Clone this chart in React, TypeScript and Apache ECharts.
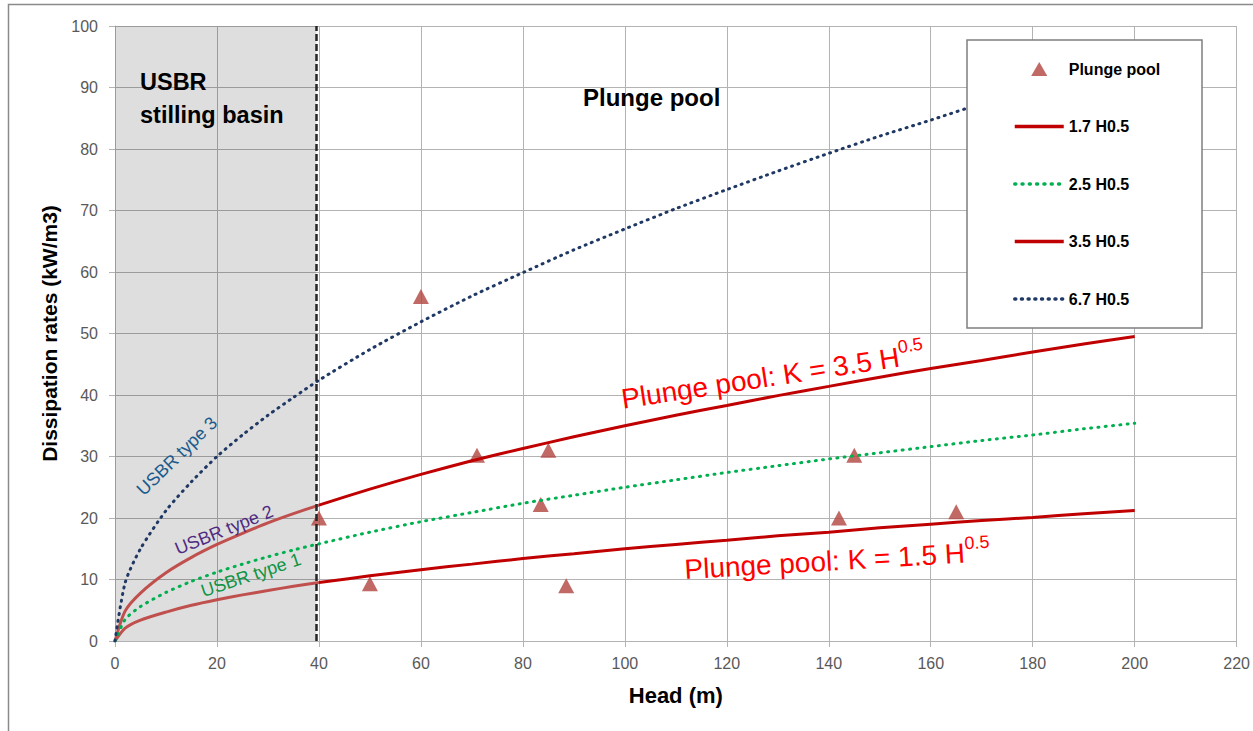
import React, { useEffect, useRef } from "react";
import * as echarts from "echarts";

// ---- data ----
// USBR stilling basin part (head 0..40 m)
const headBasin = [0, 2, 5, 10, 15, 20, 25, 30, 35, 40];
const usbrType1Rate = [0, 2.1, 3.4, 4.7, 5.8, 6.7, 7.5, 8.2, 8.9, 9.5]; // K = 1.5
const usbrType2Rate = [0, 4.9, 7.8, 11.1, 13.6, 15.7, 17.5, 19.2, 20.7, 22.1]; // K = 3.5

// Plunge pool part (head 40..200 m)
const headPool = [40, 50, 60, 70, 80, 90, 100, 110, 120, 130, 140, 150, 160, 170, 180, 190, 200];
const poolLowRate = [9.5, 10.6, 11.6, 12.5, 13.4, 14.2, 15.0, 15.7, 16.4, 17.1, 17.7, 18.4, 19.0, 19.6, 20.1, 20.7, 21.2];
const poolHighRate = [22.1, 24.7, 27.1, 29.3, 31.3, 33.2, 35.0, 36.7, 38.3, 39.9, 41.4, 42.9, 44.3, 45.6, 47.0, 48.3, 49.5];

// Full-range dotted curves (head 0..200 m)
const headFull = [0, 2, 5, 10, 15, 20, 25, 30, 35, 40, 50, 60, 70, 80, 90, 100, 110, 120, 130, 140, 150, 160, 170, 180, 190, 200];
const k25Rate = [0, 3.5, 5.6, 7.9, 9.7, 11.2, 12.5, 13.7, 14.8, 15.8, 17.7, 19.4, 20.9, 22.4, 23.7, 25.0, 26.2, 27.4, 28.5, 29.6, 30.6, 31.6, 32.6, 33.5, 34.5, 35.4];
const k67Rate = [0, 9.5, 15.0, 21.2, 25.9, 30.0, 33.5, 36.7, 39.6, 42.4, 47.4, 51.9, 56.1, 59.9, 63.6, 67.0, 70.3, 73.4, 76.4, 79.3, 82.1, 84.7, 87.4, 89.9, 92.4, 94.8];

// Plunge pool measurements (triangles)
const obsHead = [40, 50, 60, 71, 83.5, 85, 88.5, 142, 145, 165];
const obsRate = [20, 9.3, 56, 30.2, 22.2, 31, 9, 20, 30.2, 21];

const lineLegendNames = ["1.7 H0.5", "2.5 H0.5", "3.5 H0.5", "6.7 H0.5"];
const pointLegendName = "Plunge pool";
const basinLimit = 39.5;

const FONT = "'Liberation Sans', Arial, sans-serif";
const TRI_COLOR = "#b0443f";
const zip = (xs: number[], ys: number[]) => xs.map((x, i) => [x, ys[i]]);
const deg = (d: number) => (d * Math.PI) / 180;

export default function App() {
  const ref = useRef<HTMLDivElement>(null);
  useEffect(() => {
    const chart = echarts.init(ref.current!, null, { renderer: "svg" });
    const hiddenSymbol = { color: "rgba(0,0,0,0)", borderWidth: 0, opacity: 0 };
    const option: any = {
      animation: false,
      backgroundColor: "#ffffff",
      grid: { left: 115, right: 15, top: 26, bottom: 90 },
      xAxis: {
        type: "value",
        min: 0,
        max: 220,
        interval: 20,
        name: "Head (m)",
        nameLocation: "middle",
        nameGap: 43,
        nameTextStyle: { fontFamily: FONT, fontWeight: "bold", fontSize: 22, color: "#000" },
        axisLine: { show: true, lineStyle: { color: "#b3b3b3", width: 1 } },
        axisTick: { show: true, length: 6, lineStyle: { color: "#b3b3b3" } },
        axisLabel: { fontFamily: FONT, fontSize: 16, color: "#595959", margin: 14 },
        splitLine: { show: true, lineStyle: { color: "#b3b3b3", width: 1 } },
      },
      yAxis: {
        type: "value",
        min: 0,
        max: 100,
        interval: 10,
        name: "Dissipation rates (kW/m3)",
        nameLocation: "middle",
        nameGap: 54,
        nameTextStyle: { fontFamily: FONT, fontWeight: "bold", fontSize: 21, color: "#000" },
        axisLine: { show: true, lineStyle: { color: "#b3b3b3", width: 1 } },
        axisTick: { show: true, length: 6, lineStyle: { color: "#b3b3b3" } },
        axisLabel: { fontFamily: FONT, fontSize: 16, color: "#595959", margin: 17 },
        splitLine: { show: true, lineStyle: { color: "#b3b3b3", width: 1 } },
      },
      legend: {
        data: [
          { name: pointLegendName, icon: "path://M0,13 L7.5,0 L15,13 Z" },
          ...lineLegendNames.map((n) => ({ name: n, itemStyle: hiddenSymbol })),
        ],
        orient: "vertical",
        left: 1013,
        top: 61,
        padding: 0,
        itemWidth: 49,
        itemHeight: 14,
        itemGap: 41.5,
        symbolKeepAspect: true,
        lineStyle: { width: 3.5 },
        z: 10,
        textStyle: { fontFamily: FONT, fontWeight: "bold", fontSize: 16, color: "#000" },
      },
      graphic: [
        {
          type: "polyline",
          silent: true,
          shape: { points: [[8.5, 731], [8.5, 4.5], [1253, 4.5]] },
          style: { stroke: "#8a8a8a", lineWidth: 1.5, fill: null },
        },
        {
          type: "rect",
          z: 5,
          silent: true,
          shape: { x: 967, y: 40, width: 235, height: 288 },
          style: { fill: "#ffffff", stroke: "#7f7f7f", lineWidth: 1.5 },
        },
        {
          type: "text",
          x: 140,
          y: 81.5,
          z: 6,
          style: { text: "USBR", fontFamily: FONT, fontWeight: "bold", fontSize: 23.5, fill: "#000", align: "left", verticalAlign: "middle" },
        },
        {
          type: "text",
          x: 140,
          y: 114.5,
          z: 6,
          style: { text: "stilling basin", fontFamily: FONT, fontWeight: "bold", fontSize: 23.5, fill: "#000", align: "left", verticalAlign: "middle" },
        },
        {
          type: "text",
          x: 583,
          y: 97,
          z: 6,
          style: { text: "Plunge pool", fontFamily: FONT, fontWeight: "bold", fontSize: 24, fill: "#000", align: "left", verticalAlign: "middle" },
        },
        {
          type: "text",
          x: 621.5,
          y: 399.3,
          z: 6,
          rotation: deg(8.6),
          style: {
            text: "{n|Plunge pool: K = 3.5 H}{s|0.5}",
            align: "left",
            verticalAlign: "middle",
            fill: "#ff0000",
            fontFamily: FONT,
            rich: {
              n: { fontFamily: FONT, fontSize: 28, lineHeight: 38, fill: "#ff0000" },
              s: { fontFamily: FONT, fontSize: 18, verticalAlign: "top", fill: "#ff0000" },
            },
          },
        },
        {
          type: "text",
          x: 684.5,
          y: 569.5,
          z: 6,
          rotation: deg(3.3),
          style: {
            text: "{n|Plunge pool: K = 1.5 H}{s|0.5}",
            align: "left",
            verticalAlign: "middle",
            fill: "#ff0000",
            fontFamily: FONT,
            rich: {
              n: { fontFamily: FONT, fontSize: 28, lineHeight: 38, fill: "#ff0000" },
              s: { fontFamily: FONT, fontSize: 18, verticalAlign: "top", fill: "#ff0000" },
            },
          },
        },
        {
          type: "text",
          x: 177,
          y: 456,
          z: 6,
          rotation: deg(44),
          style: { text: "USBR type 3", fontFamily: FONT, fontSize: 18, fill: "#1b5a8c", align: "center", verticalAlign: "middle" },
        },
        {
          type: "text",
          x: 224,
          y: 530,
          z: 6,
          rotation: deg(22),
          style: { text: "USBR type 2", fontFamily: FONT, fontSize: 18, fill: "#4f2a80", align: "center", verticalAlign: "middle" },
        },
        {
          type: "text",
          x: 251,
          y: 575,
          z: 6,
          rotation: deg(18.5),
          style: { text: "USBR type 1", fontFamily: FONT, fontSize: 18, fill: "#0e9443", align: "center", verticalAlign: "middle" },
        },
      ],
      series: [
        {
          name: "basin-area",
          type: "line",
          z: 1,
          silent: true,
          data: [[0, 0]],
          symbol: "none",
          lineStyle: { opacity: 0 },
          markArea: {
            silent: true,
            itemStyle: { color: "rgba(0,0,0,0.13)" },
            data: [[{ xAxis: 0 }, { xAxis: basinLimit }]],
          },
        },
        {
          name: "USBR type 1 curve",
          type: "line",
          data: zip(headBasin, usbrType1Rate),
          symbol: "none",
          smooth: 0.25,
          lineStyle: { color: "#c0504d", width: 3 },
          itemStyle: { color: "#c0504d" },
        },
        {
          name: "USBR type 2 curve",
          type: "line",
          data: zip(headBasin, usbrType2Rate),
          symbol: "none",
          smooth: 0.25,
          lineStyle: { color: "#c0504d", width: 3 },
          itemStyle: { color: "#c0504d" },
        },
        {
          name: "1.7 H0.5",
          type: "line",
          data: zip(headPool, poolLowRate),
          symbol: "none",
          smooth: 0.25,
          lineStyle: { color: "#c00000", width: 3 },
          itemStyle: { color: "#c00000" },
        },
        {
          name: "2.5 H0.5",
          type: "line",
          data: zip(headFull, k25Rate),
          symbol: "none",
          smooth: 0.25,
          lineStyle: { color: "#00b050", width: 3, type: [1, 6.3], cap: "round" },
          itemStyle: { color: "#00b050" },
        },
        {
          name: "3.5 H0.5",
          type: "line",
          data: zip(headPool, poolHighRate),
          symbol: "none",
          smooth: 0.25,
          lineStyle: { color: "#c00000", width: 3 },
          itemStyle: { color: "#c00000" },
        },
        {
          name: "6.7 H0.5",
          type: "line",
          data: zip(headFull, k67Rate),
          symbol: "none",
          smooth: 0.25,
          lineStyle: { color: "#1f3864", width: 3, type: [1, 5.7], cap: "round" },
          itemStyle: { color: "#1f3864" },
        },
        {
          name: pointLegendName,
          type: "scatter",
          data: zip(obsHead, obsRate),
          symbol: "triangle",
          symbolSize: [16, 15],
          itemStyle: { color: TRI_COLOR },
        },
        {
          name: "basin-limit",
          type: "line",
          z: 3,
          silent: true,
          data: [[0, 0]],
          symbol: "none",
          lineStyle: { opacity: 0 },
          markLine: {
            silent: true,
            symbol: ["none", "none"],
            label: { show: false },
            lineStyle: { color: "#262626", width: 2.5, type: [7, 3] },
            data: [{ xAxis: basinLimit }],
          },
        },
      ],
    };
    chart.setOption(option);
    return () => chart.dispose();
  }, []);
  return (
    <div
      ref={ref}
      style={{ position: "fixed", left: 0, top: 0, width: 1253, height: 731, background: "#fff" }}
    />
  );
}
